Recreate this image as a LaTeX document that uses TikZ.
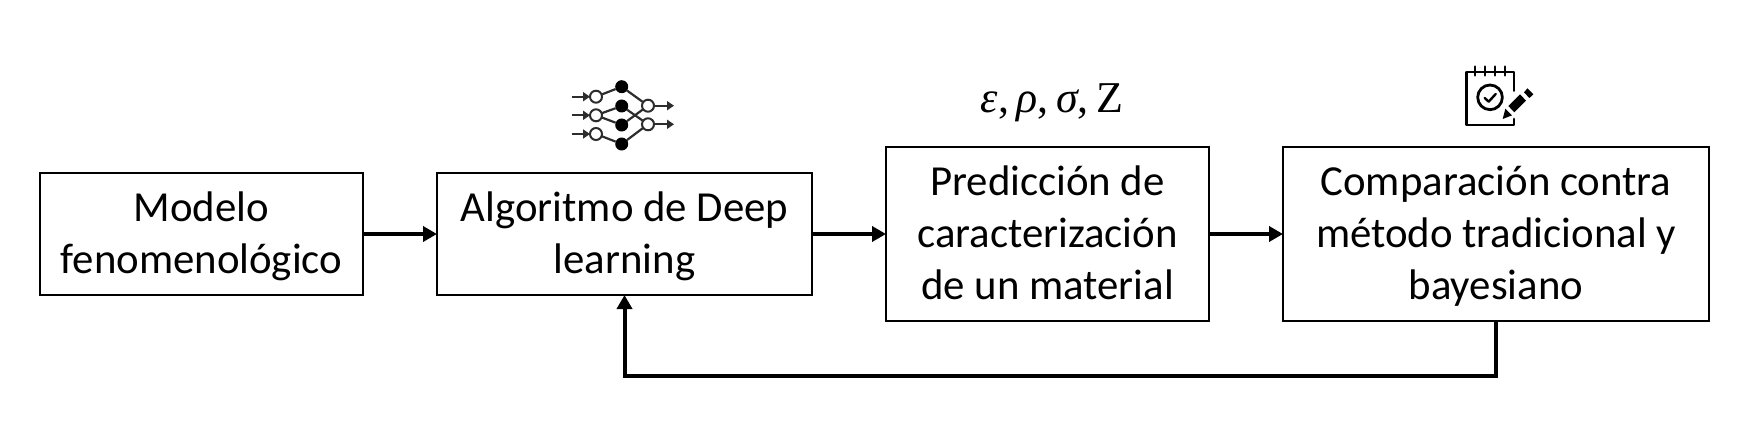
\documentclass[tikz,border=0pt]{standalone}
\usepackage{fontspec}
\setmainfont{Carlito}
\newfontfamily\symfont{Liberation Serif}
\usetikzlibrary{arrows.meta,calc}
\definecolor{inkblack}{RGB}{0,0,0}
\definecolor{netgray}{RGB}{45,45,45}
\newcommand{\firstline}{\rule{0pt}{19pt}}
\newcommand{\finalline}{\rule[-6pt]{0pt}{6pt}}
\tikzset{
  x=0.5pt,y=-0.5pt,
  blockbox/.style={draw=inkblack,line width=1.25pt,inner sep=0pt,outer sep=0pt,align=center,
    font=\fontsize{21.4pt}{26pt}\selectfont,text=inkblack},
  flow/.style={draw=inkblack,line width=2pt,-{Triangle[length=7pt,width=7.5pt]},line join=miter},
  netopen/.style={circle,draw=netgray,fill=white,line width=1pt,minimum size=6pt,inner sep=0pt,outer sep=0pt},
  netfull/.style={circle,fill=inkblack,minimum size=6.5pt,inner sep=0pt,outer sep=0pt},
  netedge/.style={draw=netgray,line width=1.1pt},
  netarrow/.style={draw=netgray,line width=1.1pt,-{Triangle[length=3.5pt,width=4.5pt]}},
  padline/.style={draw=inkblack,line cap=round,line join=round},
}
\begin{document}
\begin{tikzpicture}
\useasboundingbox (0,0) rectangle (1744,444);
% blocks
\node[blockbox,minimum width=161.5pt,minimum height=61pt] (b1) at (201.5,234) {\firstline Modelo\\fenomenológico\finalline};
\node[blockbox,minimum width=187.5pt,minimum height=61pt] (b2) at (624.5,234) {\firstline Algoritmo de Deep\\learning\finalline};
\node[blockbox,minimum width=161.5pt,minimum height=87pt] (b3) at (1047.5,234) {\firstline Predicción de\\caracterización\\de un material\finalline};
\node[blockbox,minimum width=213pt,minimum height=87pt] (b4) at (1496,234) {\firstline Comparación contra\\método tradicional y\\bayesiano\finalline};
\coordinate (fb) at (1060,376);
\draw[flow] (b1) -- (b2);
\draw[flow] (b2) -- (b3);
\draw[flow] (b3) -- (b4);
\draw[flow] (b4.south) -- (b4.south |- fb) -- (b2.south |- fb) -- (b2.south);
% symbols
\node[inner sep=0pt,font=\fontsize{22pt}{26pt}\selectfont] (syms) at (1052,103)
  {{\symfont\itshape ε}{\symfont,\,}{\symfont\itshape ρ}{\symfont,\,}{\symfont\itshape σ}{\symfont,\,Z}};
% network icon
\node[netopen] (i1) at (596,96.7) {};
\node[netopen] (i2) at (596,115.3) {};
\node[netopen] (i3) at (596,134) {};
\node[netfull] (h1) at (621.7,86.7) {};
\node[netfull] (h2) at (621.7,106) {};
\node[netfull] (h3) at (621.7,125) {};
\node[netfull] (h4) at (621.7,144) {};
\node[netopen] (o1) at (648,105.7) {};
\node[netopen] (o2) at (648,124.3) {};
\coordinate (a1) at (571.7,96.7);
\coordinate (a2) at (571.7,115.3);
\coordinate (a3) at (571.7,134);
\coordinate (z1) at (674,105.7);
\coordinate (z2) at (674,124.3);
\foreach \u/\v in {i1/h1,i2/h2,i2/h3,i3/h4,h1/o1,h2/o2,h3/o1,h4/o2}{\draw[netedge] (\u) -- (\v);}
\draw[netarrow] (a1) -- (i1);
\draw[netarrow] (a2) -- (i2);
\draw[netarrow] (a3) -- (i3);
\draw[netarrow] (o1) -- (z1);
\draw[netarrow] (o2) -- (z2);
% notepad icon
\begin{scope}[shift={(1440,50)},x=0.1667pt,y=-0.1667pt]
  \draw[padline,line width=1.4pt] (222,122) -- (222,66) -- (80,66) -- (80,225) -- (222,225) -- (222,207);
  \foreach \r in {105,135,165,195}{\draw[padline,line width=1.4pt] (\r,50) -- (\r,76);}
  \draw[padline,line width=1.4pt] (150,142) circle[radius=37];
  \draw[padline,line width=1.2pt] (134,144) -- (146,155) -- (167,132);
  \fill[inkblack] (205,168) -- (240,133) -- (258,152) -- (223,187) -- cycle;
  \fill[inkblack] (188,207) -- (196,176) -- (216,196) -- cycle;
  \fill[inkblack] (252,127) -- (262,115) -- (280,133) -- (268,144) -- cycle;
\end{scope}
\end{tikzpicture}
\end{document}
